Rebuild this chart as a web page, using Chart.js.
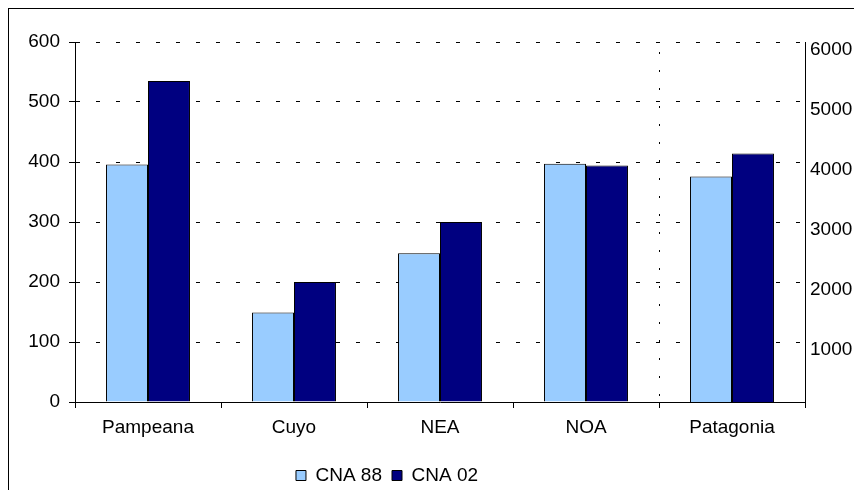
<!DOCTYPE html>
<html>
<head>
<meta charset="utf-8">
<script src="https://cdn.jsdelivr.net/npm/chart.js@4/dist/chart.umd.min.js"></script>
<style>
  html, body { margin: 0; padding: 0; background: #fff; }
  #box { width: 854px; height: 490px; }
</style>
</head>
<body>
<div id="box"><canvas id="myChart"></canvas></div>
<script>
var categories = ["Pampeana", "Cuyo", "NEA", "NOA", "Patagonia"];
// left axis (first four regions)
var cna88 = [396, 149, 248, 397, null];
var cna02 = [535, 200, 300, 394, null];
// right axis (Patagonia)
var pat88 = [null, null, null, null, 3760];
var pat02 = [null, null, null, null, 4140];
var leftTicks = [0, 100, 200, 300, 400, 500, 600];
var rightTicks = [0, 1000, 2000, 3000, 4000, 5000, 6000];

var lightBlue = "#99CCFF";
var navy = "#000080";
var fontFam = "'Liberation Sans', Arial, sans-serif";

Chart.defaults.font.family = fontFam;
Chart.defaults.font.size = 19;
Chart.defaults.color = "#000";

// outer frame of the chart + white background
var framePlugin = {
  id: "frame",
  beforeDraw: function(chart) {
    var ctx = chart.ctx;
    ctx.save();
    ctx.fillStyle = "#fff";
    ctx.fillRect(0, 0, chart.width, chart.height);
    ctx.strokeStyle = "#000";
    ctx.lineWidth = 1;
    ctx.strokeRect(8.5, 8.5, 1000, 1000);
    ctx.restore();
  }
};

// legend sits a bit left of the canvas centre and a little lower
var legendShift = {
  id: "legendShift",
  afterLayout: function(chart) {
    chart.legend.right -= 80;
    chart.legend.top += 5;
    chart.legend.bottom += 5;
  }
};

new Chart("myChart", {
  type: "bar",
  data: {
    labels: categories,
    datasets: [
      { label: "CNA 88", data: cna88, backgroundColor: lightBlue, borderColor: "#000", borderWidth: 1, yAxisID: "y" },
      { label: "CNA 02", data: cna02, backgroundColor: navy, borderColor: "#000", borderWidth: 1, yAxisID: "y" },
      { label: "CNA 88 ", data: pat88, backgroundColor: lightBlue, borderColor: "#000", borderWidth: 1, yAxisID: "y2" },
      { label: "CNA 02 ", data: pat02, backgroundColor: navy, borderColor: "#000", borderWidth: 1, yAxisID: "y2" }
    ]
  },
  options: {
    responsive: true,
    maintainAspectRatio: false,
    animation: false,
    skipNull: true,
    barPercentage: 1,
    categoryPercentage: 0.575,
    layout: { padding: { top: 42, left: 0, right: 0, bottom: 0 } },
    plugins: {
      tooltip: { enabled: false },
      legend: {
        position: "bottom",
        labels: {
          boxWidth: 10,
          boxHeight: 10,
          padding: 10,
          font: { size: 19 },
          filter: function(item) { return item.datasetIndex < 2; }
        }
      }
    },
    scales: {
      x: {
        offset: true,
        grid: {
          offset: true,
          color: function(c) { return c.index === 4 ? "#000" : "rgba(0,0,0,0)"; },
          tickColor: "#000",
          tickLength: 6,
          lineWidth: 1
        },
        border: { display: true, color: "#000", dash: [2, 16], dashOffset: 8 },
        ticks: { padding: 8, font: { size: 19 } },
        afterFit: function(s) { s.height = 49; }
      },
      y: {
        position: "left",
        min: 0,
        max: 600,
        afterBuildTicks: function(s) { s.ticks = leftTicks.map(function(v) { return { value: v }; }); },
        grid: { color: "#000", tickColor: "#000", tickLength: 6, lineWidth: 1 },
        border: { display: true, color: "#000", dash: [4, 16] },
        ticks: { padding: 9, font: { size: 19 } },
        afterFit: function(s) { s.width = 75; }
      },
      y2: {
        position: "right",
        min: 0,
        max: 6000,
        afterBuildTicks: function(s) { s.ticks = rightTicks.map(function(v) { return { value: v }; }); },
        grid: { display: false, drawOnChartArea: false, drawTicks: false },
        border: { display: true, color: "#000" },
        ticks: {
          padding: 5,
          labelOffset: 8,
          font: { size: 19 },
          callback: function(v) { return v === 0 ? "" : v; }
        },
        afterFit: function(s) { s.width = 49; }
      }
    }
  },
  plugins: [framePlugin, legendShift]
});
</script>
</body>
</html>
